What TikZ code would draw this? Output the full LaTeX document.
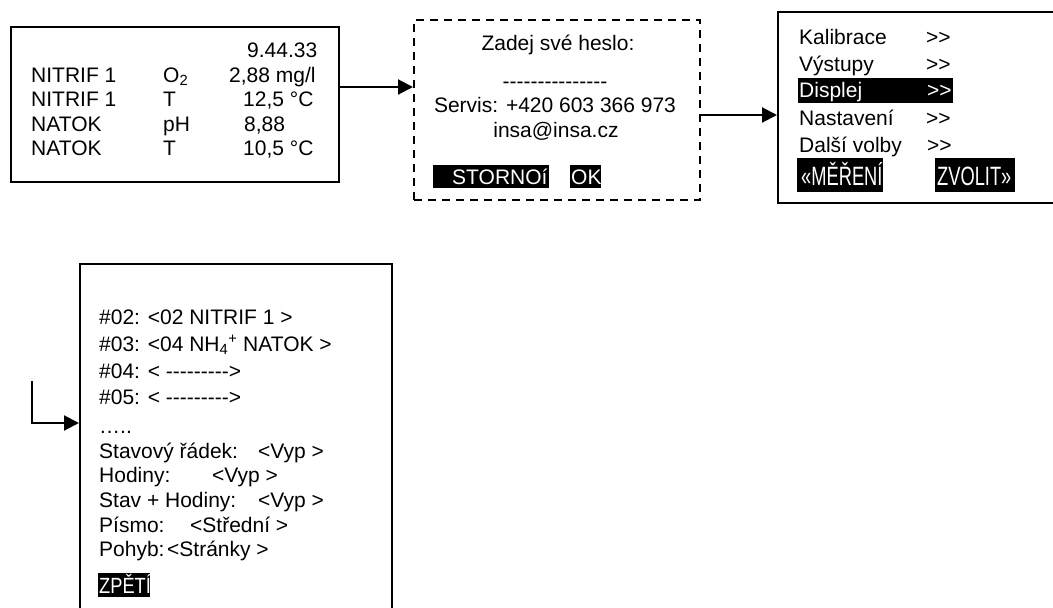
\documentclass[tikz,border=0pt]{standalone}
\usepackage{fontspec}
\setmainfont{Liberation Sans}[Ligatures=TeXOff]
\usetikzlibrary{arrows.meta}
\newcommand\dfont{\fontsize{21pt}{25pt}\selectfont}
\newcommand\bigcond[1]{\scalebox{0.69}[1]{\fontsize{26.5pt}{30pt}\selectfont #1}}
\newcommand\nrw[1]{\scalebox{0.83}[1]{\fontsize{22pt}{26pt}\selectfont #1}}
\begin{document}
\begin{tikzpicture}[x=1pt,y=-1pt,
  box/.style={draw, line width=2.1pt, rectangle, inner sep=0, anchor=north west},
  dbox/.style={box, dashed, dash pattern=on 8pt off 6pt},
  arr/.style={line width=2.1pt, -{Triangle[length=15pt 0 0,width=15pt 0 0]}},
  t/.style={anchor=base west, inner sep=0, font=\dfont},
  tc/.style={anchor=base, inner sep=0, font=\dfont},
  blk/.style={fill=black, inner sep=0, anchor=north west},
  wt/.style={t, text=white}]
\useasboundingbox (0,0) rectangle (1053,608);
% boxes
\node[box, minimum width=328pt, minimum height=155pt] (b1) at (10,26) {};
\node[dbox, minimum width=286pt, minimum height=180pt] (b2) at (413,19) {};
\node[box, minimum width=290pt, minimum height=191pt] (b3) at (777,11) {};
\node[box, minimum width=312pt, minimum height=360pt] (b4) at (79,263) {};
% connectors
\draw[arr] (b1.east |- 0,87) -- (b2.west |- 0,87);
\draw[arr] (b2.east |- 0,115) -- (b3.west |- 0,115);
\coordinate (s) at (32,381);
\draw[arr] (s) |- (b4.west |- 0,423);
% box 1
\node[t] (c0) at (247,57) {9.44.33};
\node[t] (n1) at (31,82) {NITRIF 1};
\node[t] (n2) at (31,106) {NITRIF 1};
\node[t] (n3) at (31,131) {NATOK};
\node[t] (n4) at (31,155) {NATOK};
\node[t] (p1) at (163,82) {O\textsubscript{2}};
\node[t] (p2) at (163,106) {T};
\node[t] (p3) at (163,131) {pH};
\node[t] (p4) at (163,155) {T};
\node[t] (v1) at (229,82) {2,88 mg/l};
\node[t] (v2) at (243,106) {12,5 °C};
\node[t] (v3) at (244,131) {8,88};
\node[t] (v4) at (243,155) {10,5 °C};
% box 2
\node[tc] (z1) at (558,50) {Zadej své heslo:};
\node[tc] (z2) at (555,88) {---------------};
\node[tc] (z3) at (555,112) {Servis: +420 603 366 973};
\node[tc] (z4) at (556,137) {insa@insa.cz};
\node[blk, minimum width=116pt, minimum height=23pt] (sb) at (433,165) {};
\node[wt] (st) at (452,184) {STORNOí};
\node[blk, minimum width=31pt, minimum height=23pt] (ob) at (570,165) {};
\node[wt] (ok) at (571,184) {OK};
% box 3
\node[blk, minimum width=155pt, minimum height=25pt] (db) at (798,78) {};
\node[blk, minimum width=86pt, minimum height=34pt] (mb) at (797,158) {};
\node[blk, minimum width=80pt, minimum height=34pt] (zb) at (935,158) {};
\node[t] (m1) at (799,44) {Kalibrace};
\node[t] (m2) at (799,71) {Výstupy};
\node[wt] (m3) at (799,97) {Displej};
\node[t] (m4) at (799,125) {Nastavení};
\node[t] (m5) at (799,152) {Další volby};
\node[t] (g1) at (926,44) {>>};
\node[t] (g2) at (926,71) {>>};
\node[wt] (g3) at (927,97) {>>};
\node[t] (g4) at (926,125) {>>};
\node[t] (g5) at (927,152) {>>};
\node[wt] (mm) at (801,185) {\bigcond{«MĚŘENÍ}};
\node[wt] (zv) at (937,185) {\bigcond{ZVOLIT»}};
% box 4
\node[t] (r1) at (99,324) {\#02: <02 NITRIF 1 >};
\node[t] (r2) at (99,351) {\#03: <04 NH\textsubscript{4}\textsuperscript{+} NATOK >};
\node[t] (r3) at (99,378) {\#04: < --------->};
\node[t] (r4) at (99,404) {\#05: < --------->};
\node[t] (r5) at (99,433) {…..};
\node[t] (r6) at (99,458) {Stavový řádek:};
\node[t] (r6v) at (258,458) {<Vyp >};
\node[t] (r7) at (99,482) {Hodiny:};
\node[t] (r7v) at (212,482) {<Vyp >};
\node[t] (r8) at (99,507) {Stav + Hodiny:};
\node[t] (r8v) at (258,507) {<Vyp >};
\node[t] (r9) at (99,532) {Písmo:};
\node[t] (r9v) at (190,532) {<Střední >};
\node[t] (r10) at (99,556) {Pohyb:};
\node[t] (r10v) at (167,556) {<Stránky >};
\node[blk, minimum width=52pt, minimum height=24pt] (zpb) at (98,573) {};
\node[wt] (zp) at (99,593) {\nrw{ZPĚTÍ}};
\end{tikzpicture}
\end{document}
